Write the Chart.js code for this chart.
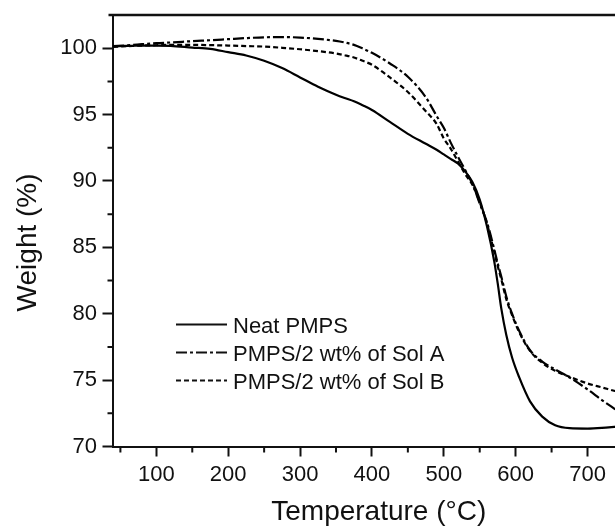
<!DOCTYPE html>
<html>
<head>
<meta charset="utf-8">
<script src="https://cdn.jsdelivr.net/npm/chart.js@4.4.1/dist/chart.umd.min.js"></script>
<style>
  html, body { margin: 0; padding: 0; background: #fff; overflow: hidden; }
  #wrap { width: 615px; height: 526px; overflow: hidden; }
</style>
</head>
<body>
<div id="wrap"><canvas id="tga" width="660" height="526"></canvas></div>
<script>
// temperatures (°C) at which the curves were read
const temperatura = [40, 60, 80, 100, 120, 150, 175, 200, 225, 250, 275, 300, 325, 350, 362, 375, 387, 400, 425, 450, 475, 490, 500, 510, 520, 530, 540, 550, 560, 570, 575, 580, 587, 595, 605, 620, 637, 655, 675, 700, 720, 740];

// weight (%)
const neatPMPS = [100.15, 100.17, 100.2, 100.2, 100.18, 100.05, 99.95, 99.7, 99.45, 99.05, 98.5, 97.8, 97.1, 96.5, 96.25, 96.0, 95.7, 95.35, 94.45, 93.55, 92.8, 92.35, 92.0, 91.65, 91.3, 90.7, 89.9, 88.6, 86.6, 84.0, 82.3, 80.4, 78.4, 76.7, 75.2, 73.4, 72.25, 71.6, 71.38, 71.35, 71.4, 71.5];
const solA = [100.15, 100.22, 100.3, 100.38, 100.43, 100.53, 100.6, 100.68, 100.76, 100.82, 100.84, 100.8, 100.7, 100.55, 100.43, 100.25, 99.98, 99.65, 98.85, 97.85, 96.3, 94.9, 94.0, 92.85, 91.8, 90.8, 89.75, 88.3, 86.9, 84.9, 83.8, 82.8, 81.3, 80.0, 78.7, 77.25, 76.4, 75.8, 75.2, 74.3, 73.5, 72.75];
const solB = [100.1, 100.15, 100.2, 100.22, 100.25, 100.25, 100.23, 100.2, 100.16, 100.12, 100.03, 99.92, 99.78, 99.6, 99.47, 99.3, 99.05, 98.75, 97.8, 96.7, 95.25, 94.3, 93.2, 92.4, 91.45, 90.5, 89.7, 88.4, 86.8, 84.7, 83.6, 82.6, 81.1, 79.9, 78.6, 77.2, 76.3, 75.7, 75.25, 74.75, 74.45, 74.15];

const etiquetas = ['Neat PMPS', 'PMPS/2 wt% of Sol A', 'PMPS/2 wt% of Sol B'];
const ticksX = [100, 200, 300, 400, 500, 600, 700];
const ticksY = [70, 75, 80, 85, 90, 95, 100];
const menoresX = [50, 150, 250, 350, 450, 550, 650, 750];
const menoresY = [72.5, 77.5, 82.5, 87.5, 92.5, 97.5];

const negro = '#111';

function puntos(ys) {
  return temperatura.map((t, i) => ({ x: t, y: ys[i] }));
}

// minor ticks, top frame line and the legend inside the plot
const extras = {
  id: 'extras',
  afterDraw(chart) {
    const c = chart.ctx;
    const { left, right, top, bottom } = chart.chartArea;
    const sx = chart.scales.x;
    const sy = chart.scales.y;
    c.save();
    c.strokeStyle = negro;
    c.lineWidth = 2;
    c.beginPath();
    menoresX.forEach(v => {
      const px = sx.getPixelForValue(v);
      c.moveTo(px, bottom);
      c.lineTo(px, bottom + 6);
    });
    menoresY.forEach(v => {
      const py = sy.getPixelForValue(v);
      c.moveTo(left, py);
      c.lineTo(left - 5, py);
    });
    c.stroke();

    c.lineWidth = 2.5;
    c.beginPath();
    c.moveTo(left - 4, top);
    c.lineTo(right, top);
    c.stroke();

    // legend
    c.font = '22px "Liberation Sans", Arial, sans-serif';
    c.fillStyle = negro;
    c.textBaseline = 'alphabetic';
    chart.data.datasets.forEach((ds, i) => {
      const yc = 324.5 + i * 28;
      c.setLineDash(ds.borderDash || []);
      c.lineWidth = 2;
      c.beginPath();
      c.moveTo(176, yc);
      c.lineTo(227, yc);
      c.stroke();
      c.setLineDash([]);
      c.fillText(ds.label, 233, yc + 8);
    });
    c.restore();
  }
};

const ctx = document.getElementById('tga').getContext('2d');
const grafico = new Chart(ctx, {
  type: 'line',
  data: {
    datasets: [
      {
        label: etiquetas[0],
        data: puntos(neatPMPS),
        borderColor: '#000',
        borderWidth: 2.2,
        pointRadius: 0,
        fill: false
      },
      {
        label: etiquetas[1],
        data: puntos(solA),
        borderColor: '#000',
        borderWidth: 2.2,
        borderDash: [11, 3, 3, 3],
        pointRadius: 0,
        fill: false
      },
      {
        label: etiquetas[2],
        data: puntos(solB),
        borderColor: '#000',
        borderWidth: 2.2,
        borderDash: [5, 3],
        pointRadius: 0,
        fill: false
      }
    ]
  },
  options: {
    responsive: false,
    animation: false,
    cubicInterpolationMode: 'monotone',
    layout: { padding: { top: 15, right: 15, left: 0, bottom: 0 } },
    scales: {
      x: {
        type: 'linear',
        min: 39,
        max: 780,
        afterBuildTicks: axis => { axis.ticks = ticksX.map(v => ({ value: v })); },
        afterFit: axis => {
          axis.height = 79.5;
          axis.paddingLeft = 0;
          axis.paddingRight = 0;
        },
        ticks: {
          color: negro,
          padding: 5,
          maxRotation: 0,
          autoSkip: false,
          font: { family: '"Liberation Sans", Arial, sans-serif', size: 22 }
        },
        grid: { drawOnChartArea: false, tickLength: 10, tickWidth: 2, tickColor: negro },
        border: { color: negro, width: 2 },
        title: {
          display: true,
          text: 'Temperature (°C)',
          color: negro,
          padding: { top: 4, bottom: 0 },
          font: { family: '"Liberation Sans", Arial, sans-serif', size: 28, lineHeight: 1 }
        }
      },
      y: {
        min: 70,
        max: 102.5,
        afterBuildTicks: axis => { axis.ticks = ticksY.map(v => ({ value: v })); },
        afterFit: axis => {
          axis.width = 112.5;
          axis.paddingTop = 0;
          axis.paddingBottom = 0;
        },
        ticks: {
          color: negro,
          padding: 5.5,
          font: { family: '"Liberation Sans", Arial, sans-serif', size: 22 }
        },
        grid: { drawOnChartArea: false, tickLength: 10, tickWidth: 2, tickColor: negro },
        border: { color: negro, width: 2 },
        title: {
          display: true,
          text: 'Weight (%)   ',
          color: negro,
          padding: { top: 14, bottom: 19 },
          font: { family: '"Liberation Sans", Arial, sans-serif', size: 28, lineHeight: 1 }
        }
      }
    },
    plugins: {
      legend: { display: false },
      tooltip: { enabled: false }
    }
  },
  plugins: [extras]
});
</script>
</body>
</html>
